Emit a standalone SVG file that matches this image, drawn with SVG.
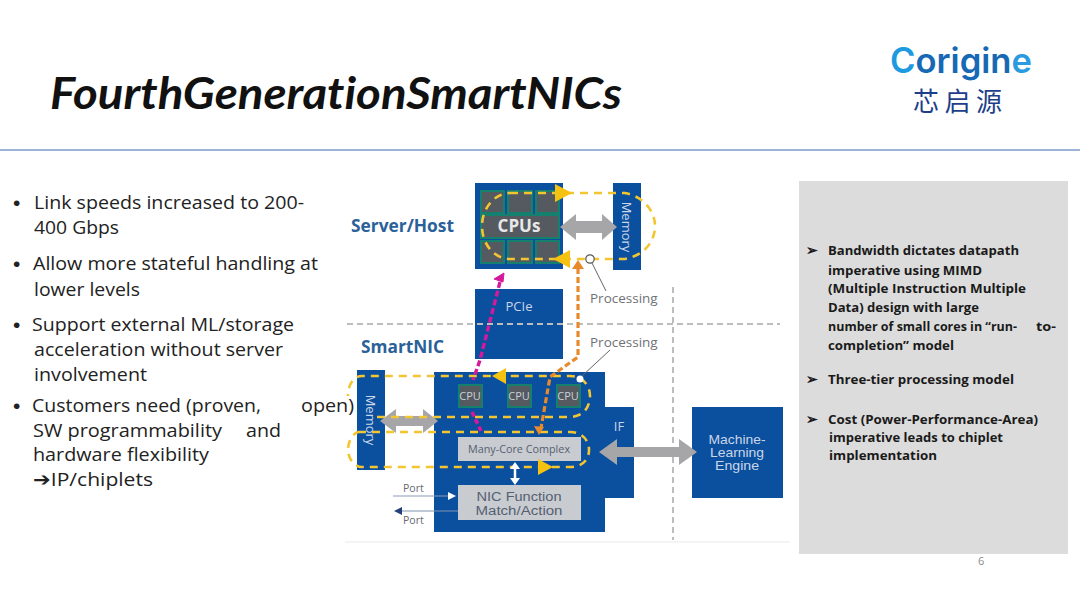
<svg xmlns="http://www.w3.org/2000/svg" width="1080" height="608" viewBox="0 0 1080 608">
<style>
text{font-family:"Open Sans","Noto Sans",sans-serif}
.b{fill:#0b4f9f}
.bul{font-size:19px;fill:#222}
.dot{font-family:"Liberation Sans",sans-serif;font-size:21px}
.r{font-size:12.8px;font-weight:700;fill:#1a1a1a}
.y{fill:none;stroke:#f2c531;stroke-width:2.6;stroke-dasharray:8 6}
.ya{fill:#f5c211}
.g{fill:#a6a6a8}
.gd{fill:none;stroke:#bdbdbd;stroke-width:2;stroke-dasharray:6 4}
.w{fill:#c9d6e6;font-size:13px;text-anchor:middle}
.ls{font-family:"Liberation Sans",sans-serif}
.p{fill:#6f7276;font-size:13.5px}
.c{fill:#555a60;stroke:#16806f;stroke-width:2}
.box{fill:#c8cbd0}
</style>
<rect width="1080" height="608" fill="#fff"/>
<text x="50" y="109" font-size="44" font-weight="700" font-style="italic" fill="#111" style="font-family:Lato,sans-serif;font-variant-ligatures:none" textLength="572" lengthAdjust="spacingAndGlyphs">FourthGenerationSmartNICs</text>
<line x1="0" y1="150" x2="1080" y2="150" stroke="#7b9cc8" stroke-width="1.5"/>
<g id="logo">
<text x="890" y="73" font-size="35" font-weight="600" style="font-family:Inter,sans-serif" textLength="142" lengthAdjust="spacingAndGlyphs"><tspan fill="#1e9ae0">C</tspan><tspan fill="#1769b5">origin</tspan><tspan fill="#2a9be0">e</tspan></text>
<text x="913" y="111" font-size="26" fill="#1d3f8a" style="font-family:'Noto Sans CJK SC',sans-serif" textLength="89">芯启源</text>
</g>
<g id="bullets" class="bul">
<text class="dot" x="13" y="210">•</text><text x="34" y="209" textLength="270" lengthAdjust="spacingAndGlyphs">Link speeds increased to 200-</text>
<text x="34" y="234" textLength="85" lengthAdjust="spacingAndGlyphs">400 Gbps</text>
<text class="dot" x="13" y="271">•</text><text x="33" y="270" textLength="285" lengthAdjust="spacingAndGlyphs">Allow more stateful handling at</text>
<text x="34" y="296" textLength="106" lengthAdjust="spacingAndGlyphs">lower levels</text>
<text class="dot" x="13" y="332">•</text><text x="32" y="331" textLength="262" lengthAdjust="spacingAndGlyphs">Support external ML/storage</text>
<text x="34" y="356" textLength="249" lengthAdjust="spacingAndGlyphs">acceleration without server</text>
<text x="34" y="381" textLength="113" lengthAdjust="spacingAndGlyphs">involvement</text>
<text class="dot" x="13" y="413">•</text><text x="32" y="412" textLength="229" lengthAdjust="spacingAndGlyphs">Customers need (proven,</text><text x="301" y="412" textLength="53" lengthAdjust="spacingAndGlyphs">open)</text>
<text x="33" y="437" textLength="189" lengthAdjust="spacingAndGlyphs">SW programmability</text><text x="246" y="437" textLength="35" lengthAdjust="spacingAndGlyphs">and</text>
<text x="33" y="461" textLength="176" lengthAdjust="spacingAndGlyphs">hardware flexibility</text>
<text x="33" y="486" textLength="120" lengthAdjust="spacingAndGlyphs">➔IP/chiplets</text>
</g>
<g id="panel">
<rect x="799" y="181" width="269" height="373" fill="#dcdcdc"/>
<g class="r">
<text x="806" y="255" font-size="14">➢</text><text x="828" y="255" textLength="191" lengthAdjust="spacingAndGlyphs">Bandwidth dictates datapath</text>
<text x="828" y="275" textLength="154" lengthAdjust="spacingAndGlyphs">imperative using MIMD</text>
<text x="828" y="293" textLength="198" lengthAdjust="spacingAndGlyphs">(Multiple Instruction Multiple</text>
<text x="828" y="312" textLength="151" lengthAdjust="spacingAndGlyphs">Data) design with large</text>
<text x="828" y="331" textLength="189" lengthAdjust="spacingAndGlyphs">number of small cores in “run-</text><text x="1036" y="331" textLength="20" lengthAdjust="spacingAndGlyphs">to-</text>
<text x="828" y="350" textLength="126" lengthAdjust="spacingAndGlyphs">completion” model</text>
<text x="806" y="384" font-size="14">➢</text><text x="828" y="384" textLength="186" lengthAdjust="spacingAndGlyphs">Three-tier processing model</text>
<text x="806" y="424" font-size="14">➢</text><text x="828" y="424" textLength="210" lengthAdjust="spacingAndGlyphs">Cost (Power-Performance-Area)</text>
<text x="829" y="442" textLength="174" lengthAdjust="spacingAndGlyphs">imperative leads to chiplet</text>
<text x="829" y="460" textLength="108" lengthAdjust="spacingAndGlyphs">implementation</text>
</g>
<text x="978" y="565" font-size="11" fill="#8a8a8a">6</text>
</g>
<g id="labels">
<text x="351" y="232" font-size="17" font-weight="700" fill="#2a6199" textLength="103" lengthAdjust="spacingAndGlyphs">Server/Host</text>
<text x="361" y="353" font-size="17" font-weight="700" fill="#2a6199" textLength="83" lengthAdjust="spacingAndGlyphs">SmartNIC</text>
</g>
<g id="cpus">
<rect class="b" x="475" y="183" width="88" height="86"/>
<g fill="#555a60" stroke="#16806f" stroke-width="2">
<rect x="481" y="191" width="23" height="22"/><rect x="508" y="191" width="24" height="22"/><rect x="536" y="191" width="23" height="22"/>
<rect x="481" y="215" width="78" height="23"/>
<rect x="481" y="241" width="23" height="22"/><rect x="508" y="241" width="24" height="22"/><rect x="536" y="241" width="23" height="22"/>
</g>
<text x="519" y="232" font-size="17" font-weight="700" fill="#e8e8e8" text-anchor="middle">CPUs</text>
</g>
<g id="memory-top">
<rect class="b" x="613" y="183" width="28" height="87"/>
<text transform="translate(622,227) rotate(90)" class="w" font-size="13">Memory</text>
</g>
<g id="pcie">
<rect class="b" x="475" y="289" width="88" height="70"/>
<text x="519" y="311" class="w" font-size="14">PCIe</text>
</g>
<g id="nic">
<rect class="b" x="434" y="372" width="171" height="160"/>
<rect class="b" x="605" y="407" width="29" height="91"/>
<text x="619" y="431" class="w" font-size="14">IF</text>
<rect class="c" x="459" y="385" width="23" height="22"/><rect class="c" x="508" y="385" width="23" height="22"/><rect class="c" x="557" y="385" width="23" height="22"/>
<g font-size="11" fill="#c9d0d8" text-anchor="middle"><text x="470" y="400">CPU</text><text x="519" y="400">CPU</text><text x="568" y="400">CPU</text></g>
<rect class="box" x="458" y="437" width="123" height="24"/>
<text x="519" y="453" font-size="10.8" fill="#555f70" text-anchor="middle">Many-Core Complex</text>
<rect class="box" x="458" y="485" width="123" height="35"/>
<text class="ls" x="519" y="501" font-size="12.5" fill="#555f70" text-anchor="middle" textLength="85" lengthAdjust="spacingAndGlyphs">NIC Function</text>
<text class="ls" x="519" y="515" font-size="12.5" fill="#555f70" text-anchor="middle" textLength="87" lengthAdjust="spacingAndGlyphs">Match/Action</text>
</g>
<g id="memory-nic">
<rect class="b" x="357" y="370" width="28" height="100"/>
<text transform="translate(366,420) rotate(90)" class="w" font-size="13">Memory</text>
</g>
<g id="ml-engine">
<rect class="b" x="692" y="407" width="91" height="91"/>
<text class="ls w" x="737" y="444" font-size="12" textLength="57" lengthAdjust="spacingAndGlyphs">Machine-</text><text class="ls w" x="737" y="457" font-size="12" textLength="54" lengthAdjust="spacingAndGlyphs">Learning</text><text class="ls w" x="737" y="470" font-size="12" textLength="44" lengthAdjust="spacingAndGlyphs">Engine</text>
</g>
<g id="connectors">
<line class="gd" x1="347" y1="324" x2="780" y2="324"/>
<line class="gd" x1="673" y1="287" x2="673" y2="540"/>
<line x1="345" y1="542" x2="790" y2="542" stroke="#f0f0f0" stroke-width="1.5"/>
<path class="g" d="M560 227l16-13v7h26v-7l15 13-15 13v-7h-26v7z"/>
<path class="g" d="M380 421l16-12v7h27v-7l15 12-15 12v-7h-27v7z"/>
<path class="g" d="M599 452l18-13v8h62v-8l18 13-18 13v-8h-62v8z"/>
<path class="y" d="M510 193H625C645 197 655 212 655 226C655 241 645 255 625 259H510C495 259 482 245 482 226C482 208 495 193 510 193"/>
<path class="ya" d="M572 193l-17-9v18zM553 259l17-9v18z"/>
<path class="y" d="M377 417H570C582 417 590 408 590 396C590 385 582 376 570 376H362C354 376 348 384 348 396"/>
<path class="y" d="M358 432H570C582 432 589 440 589 450C589 460 582 467 570 467H362C354 467 348 458 348 450C348 442 352 434 358 432"/>
<path class="ya" d="M492 376l14-8v16zM553 467l-15-8v16z"/>
<path d="M500 282L480 360L473 380" fill="none" stroke="#d6189a" stroke-width="3.4" stroke-dasharray="6 3"/>
<path d="M504 273l-10 6 9 3z" fill="#d6189a" stroke="#d6189a" stroke-width="1"/>
<path d="M472 412L482 433" fill="none" stroke="#d6189a" stroke-width="3.6" stroke-dasharray="5 3"/>
<path d="M578 268V357L550 377L541 428" fill="none" stroke="#e88a2c" stroke-width="3.2" stroke-dasharray="6 3"/>
<path d="M578 260l-6 9h12zM539 435l-5-9 10 1z" fill="#e88a2c"/>
<line x1="515" y1="466" x2="515" y2="482" stroke="#fff" stroke-width="2.5"/>
<path d="M515 462l-5 7h10zM515 485l-5-7h10z" fill="#fff"/>
<line x1="393" y1="496" x2="450" y2="496" stroke="#8a9bb5" stroke-width="1.2"/>
<path d="M456 496l-8-4v8z" fill="#fff"/>
<line x1="398" y1="511" x2="458" y2="511" stroke="#7f93b0" stroke-width="1.2"/>
<path d="M394 511l8-4v8z" fill="#24407a"/>
<text x="403" y="492" font-size="10.5" fill="#666a70">Port</text>
<text x="403" y="524" font-size="10.5" fill="#666a70">Port</text>
<circle cx="590" cy="259" r="4.2" fill="#fff" stroke="#555" stroke-width="1.2"/>
<line x1="592" y1="263" x2="606" y2="291" stroke="#666" stroke-width="1"/>
<text x="590" y="303" class="p">Processing</text>
<circle cx="580" cy="379" r="3.5" fill="#fff"/>
<line x1="582" y1="376" x2="610" y2="350" stroke="#666" stroke-width="1"/>
<text x="590" y="347" class="p">Processing</text>
</g>
</svg>
